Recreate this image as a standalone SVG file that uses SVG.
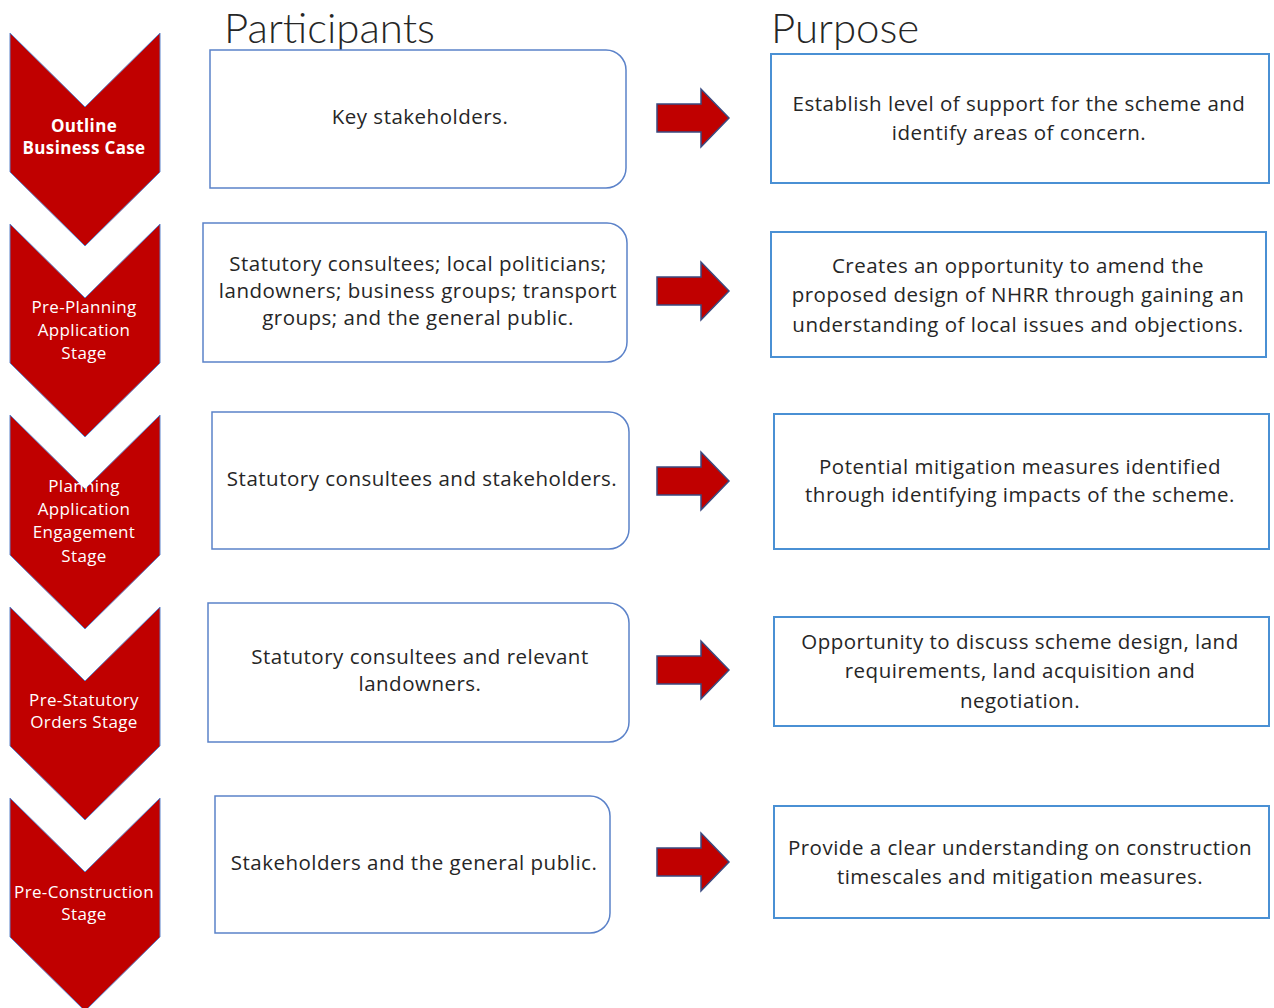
<svg xmlns="http://www.w3.org/2000/svg" width="1274" height="1008" viewBox="0 0 1274 1008">
  <style>
    .chev { fill: #C00000; stroke: #5B82C9; stroke-width: 1; }
    .chev-label { font-family: "Open Sans", Lato, sans-serif; font-size: 17px; letter-spacing: 0.35px; fill: #FFFFFF; text-anchor: middle; }
    .bold { font-weight: 700; }
    .part { fill: #FFFFFF; stroke: #5B82C9; stroke-width: 1.5; }
    .purp { fill: #FFFFFF; stroke: #4A90D4; stroke-width: 2; }
    .body { font-family: "Open Sans", Lato, sans-serif; font-size: 20.5px; letter-spacing: 0.5px; fill: #262626; text-anchor: middle; }
    .heading { font-family: Lato, "Open Sans", sans-serif; font-weight: 300; font-size: 42px; fill: #262626; }
    .arrow { fill: #C00000; stroke: #3A4A80; stroke-width: 1.5; stroke-linejoin: miter; }
  </style>

  <!-- column headings -->
  <text class="heading" x="224" y="43">Participants</text>
  <text class="heading" x="771" y="43">Purpose</text>

  <!-- stage chevrons -->
  <g id="stage-outline-business-case">
    <path class="chev" d="M10,33 L85,107 L160,33 L160,172 L85,246 L10,172 Z"/>
    <text class="chev-label bold" x="84" y="132">Outline</text>
    <text class="chev-label bold" x="84" y="154">Business Case</text>
  </g>
  <g id="stage-pre-planning">
    <path class="chev" d="M10,224 L85,298 L160,224 L160,363 L85,437 L10,363 Z"/>
    <text class="chev-label" x="84" y="313">Pre-Planning</text>
    <text class="chev-label" x="84" y="336">Application</text>
    <text class="chev-label" x="84" y="359">Stage</text>
  </g>
  <g id="stage-planning-application">
    <path class="chev" d="M10,415 L85,489 L160,415 L160,555 L85,629 L10,555 Z"/>
    <text class="chev-label" x="84" y="492">Planning</text>
    <text class="chev-label" x="84" y="515">Application</text>
    <text class="chev-label" x="84" y="538">Engagement</text>
    <text class="chev-label" x="84" y="562">Stage</text>
  </g>
  <g id="stage-pre-statutory">
    <path class="chev" d="M10,607 L85,681 L160,607 L160,746 L85,820 L10,746 Z"/>
    <text class="chev-label" x="84" y="706">Pre-Statutory</text>
    <text class="chev-label" x="84" y="728">Orders Stage</text>
  </g>
  <g id="stage-pre-construction">
    <path class="chev" d="M10,798 L85,872 L160,798 L160,937 L85,1011 L10,937 Z"/>
    <text class="chev-label" x="84" y="898">Pre-Construction</text>
    <text class="chev-label" x="84" y="920">Stage</text>
  </g>

  <!-- participants boxes (rounded on the right side) -->
  <g id="participants-1">
    <path class="part" d="M210,50 H606 A20,20 0 0 1 626,70 V168 A20,20 0 0 1 606,188 H210 Z"/>
    <text class="body" x="420" y="124">Key stakeholders.</text>
  </g>
  <g id="participants-2">
    <path class="part" d="M203,223 H607 A20,20 0 0 1 627,243 V342 A20,20 0 0 1 607,362 H203 Z"/>
    <text class="body" x="418" y="271">Statutory consultees; local politicians;</text>
    <text class="body" x="418" y="298">landowners; business groups; transport</text>
    <text class="body" x="418" y="325">groups; and the general public.</text>
  </g>
  <g id="participants-3">
    <path class="part" d="M212,412 H609 A20,20 0 0 1 629,432 V529 A20,20 0 0 1 609,549 H212 Z"/>
    <text class="body" x="422" y="486">Statutory consultees and stakeholders.</text>
  </g>
  <g id="participants-4">
    <path class="part" d="M208,603 H609 A20,20 0 0 1 629,623 V722 A20,20 0 0 1 609,742 H208 Z"/>
    <text class="body" x="420" y="664">Statutory consultees and relevant</text>
    <text class="body" x="420" y="691">landowners.</text>
  </g>
  <g id="participants-5">
    <path class="part" d="M215,796 H590 A20,20 0 0 1 610,816 V913 A20,20 0 0 1 590,933 H215 Z"/>
    <text class="body" x="414" y="870">Stakeholders and the general public.</text>
  </g>

  <!-- block arrows between columns -->
  <g id="connectors">
    <path class="arrow" d="M657,104 H701 V89 L729,118 L701,147 V132 H657 Z"/>
    <path class="arrow" d="M657,277 H701 V262 L729,291 L701,320 V305 H657 Z"/>
    <path class="arrow" d="M657,467 H701 V452 L729,481 L701,510 V495 H657 Z"/>
    <path class="arrow" d="M657,656 H701 V641 L729,670 L701,699 V684 H657 Z"/>
    <path class="arrow" d="M657,848 H701 V833 L729,862 L701,891 V876 H657 Z"/>
  </g>

  <!-- purpose boxes -->
  <g id="purpose-1">
    <rect class="purp" x="771" y="54" width="498" height="129"/>
    <text class="body" x="1019" y="111">Establish level of support for the scheme and</text>
    <text class="body" x="1019" y="140">identify areas of concern.</text>
  </g>
  <g id="purpose-2">
    <rect class="purp" x="771" y="232" width="495" height="125"/>
    <text class="body" x="1018" y="273">Creates an opportunity to amend the</text>
    <text class="body" x="1018" y="302">proposed design of NHRR through gaining an</text>
    <text class="body" x="1018" y="332">understanding of local issues and objections.</text>
  </g>
  <g id="purpose-3">
    <rect class="purp" x="774" y="414" width="495" height="135"/>
    <text class="body" x="1020" y="474">Potential mitigation measures identified</text>
    <text class="body" x="1020" y="502">through identifying impacts of the scheme.</text>
  </g>
  <g id="purpose-4">
    <rect class="purp" x="774" y="617" width="495" height="109"/>
    <text class="body" x="1020" y="649">Opportunity to discuss scheme design, land</text>
    <text class="body" x="1020" y="678">requirements, land acquisition and</text>
    <text class="body" x="1020" y="708">negotiation.</text>
  </g>
  <g id="purpose-5">
    <rect class="purp" x="774" y="806" width="495" height="112"/>
    <text class="body" x="1020" y="855">Provide a clear understanding on construction</text>
    <text class="body" x="1020" y="884">timescales and mitigation measures.</text>
  </g>
</svg>
